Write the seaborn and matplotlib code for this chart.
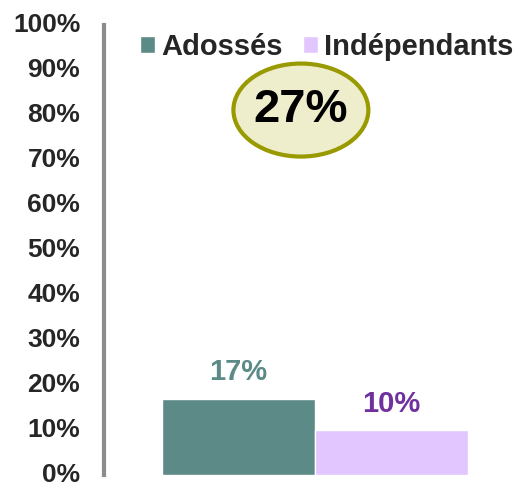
import pandas as pd
import matplotlib.pyplot as plt
import seaborn as sns
from matplotlib.patches import Ellipse
from matplotlib.ticker import PercentFormatter

# Data
types = ['Adossés', 'Indépendants']
parts = [0.17, 0.10]
couleurs = ['#5B8A87', '#E2C6FF']
couleurs_labels = ['#5B8A87', '#7030A0']
yticks = [0.0, 0.1, 0.2, 0.3, 0.4, 0.5, 0.6, 0.7, 0.8, 0.9, 1.0]

data = pd.DataFrame({'groupe': [''] * len(types), 'type': types, 'part': parts})

sns.set_style('white')
plt.rcParams['font.family'] = ['Liberation Sans', 'DejaVu Sans']

fig = plt.figure(figsize=(5.17, 4.87), dpi=100)
ax = fig.add_axes([0.201, 0.0245, 0.80, 0.924])

sns.barplot(data=data, x='groupe', y='part', hue='type', palette=couleurs,
            width=0.8, saturation=1, ax=ax, legend=True)

# bar labels in the bar colour
for cont, col in zip(ax.containers, couleurs_labels):
    ax.bar_label(cont, labels=['{:.0%}'.format(v) for v in cont.datavalues],
                 color=col, fontsize=21, fontweight='bold', padding=9)

ax.set_ylim(0, 1.0)
ax.set_xlim(-0.552, 0.529)
ax.set_yticks(yticks)
ax.yaxis.set_major_formatter(PercentFormatter(1.0, decimals=0))
ax.tick_params(axis='y', length=0, pad=17, labelsize=19)
for lab in ax.get_yticklabels():
    lab.set_fontweight('bold')
    lab.set_verticalalignment('center')
ax.set_xticks([])
ax.set_xlabel('')
ax.set_ylabel('')

for side in ['top', 'right', 'bottom']:
    ax.spines[side].set_visible(False)
ax.spines['left'].set_color('#8C8C8C')
ax.spines['left'].set_linewidth(3)

leg = ax.legend(loc='center', bbox_to_anchor=(0.632, 0.903), bbox_transform=fig.transFigure,
                ncol=2, frameon=False, handlelength=0.52, handleheight=0.52,
                handletextpad=0.2, columnspacing=0.7, borderaxespad=0,
                prop={'size': 21, 'weight': 'bold'})

# total bubble
ell = Ellipse((0.582, 0.774), 0.261, 0.191, transform=fig.transFigure,
              facecolor='#EEEECC', edgecolor='#999900', linewidth=3, zorder=5)
fig.patches.append(ell)
fig.text(0.582, 0.774, '{:.0%}'.format(sum(parts)), ha='center', va='center',
         fontsize=34, fontweight='bold', color='black', zorder=6)

fig.savefig('out.png', dpi=100)
